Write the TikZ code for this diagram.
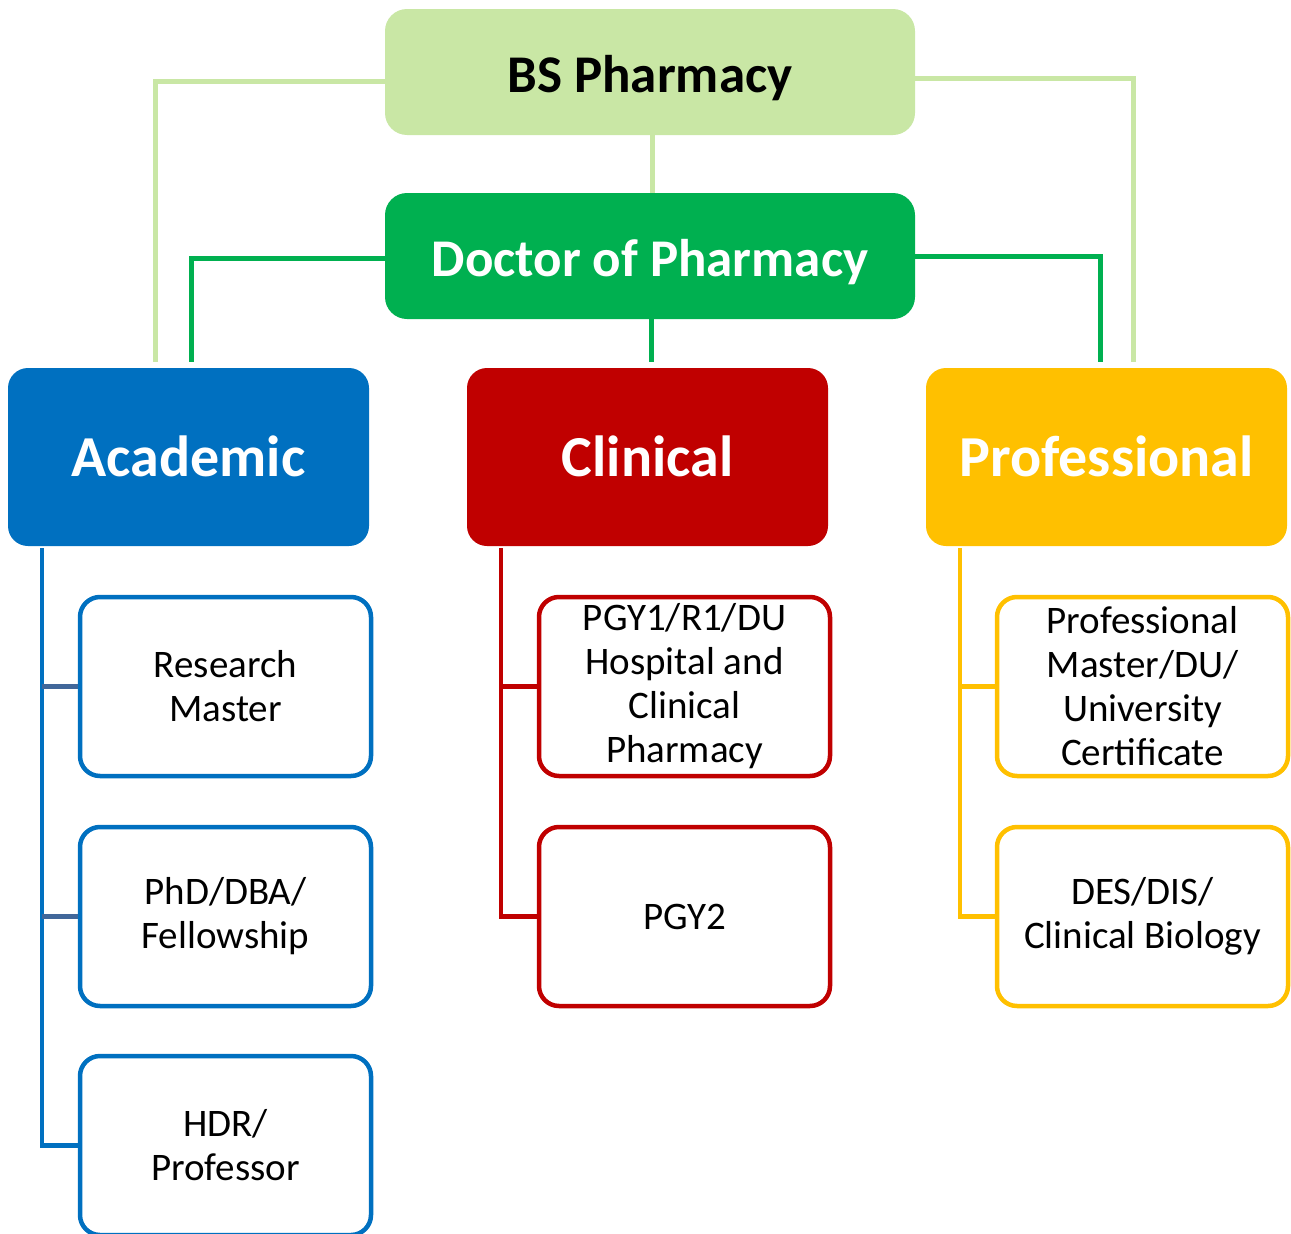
\documentclass[tikz,border=0pt]{standalone}
\usepackage{fontspec}
\setmainfont{Carlito}
\definecolor{lgreen}{HTML}{C9E7A5}
\definecolor{dgreen}{HTML}{00B050}
\definecolor{ablue}{HTML}{0070C0}
\definecolor{cred}{HTML}{C00000}
\definecolor{pyellow}{HTML}{FFC000}
\definecolor{stubblue}{HTML}{41679A}
\tikzset{
  topbox/.style={rectangle, rounded corners=22pt, minimum width=530pt, minimum height=126pt, inner sep=0pt, text height=40pt, text depth=0pt, font=\fontsize{53}{60}\selectfont\bfseries},
  catbox/.style={rectangle, rounded corners=20pt, minimum width=361pt, minimum height=178pt, inner sep=0pt, text height=38pt, text depth=0pt, text=white, font=\fontsize{58}{66}\selectfont\bfseries},
  subbox/.style={rectangle, rounded corners=20pt, draw=#1, line width=4.5pt, fill=white, minimum width=291pt, minimum height=179pt, inner sep=0pt, align=center, font=\fontsize{39}{44}\selectfont},
  conn/.style={line width=5pt, draw=#1},
  tree/.style={line width=4.5pt, draw=#1},
}
\begin{document}
\begin{tikzpicture}[x=1pt,y=-1pt]
\useasboundingbox (0,0) rectangle (1291,1234);
% top boxes
\node[topbox, fill=lgreen] (bs) at (650,72) {BS Pharmacy};
\node[topbox, fill=dgreen, text=white] (doc) at (650,256) {Doctor of Pharmacy};
% categories
\node[catbox, fill=ablue] (aca) at (188.5,457) {Academic};
\node[catbox, fill=cred] (cli) at (647.5,457) {Clinical};
\node[catbox, fill=pyellow] (pro) at (1106.5,457) {Professional};
% sub boxes
\node[subbox=ablue] (a1) at (225.5,686.5) {Research\\Master};
\node[subbox=ablue] (a2) at (225.5,916.5) {PhD/DBA/\\Fellowship};
\node[subbox=ablue] (a3) at (225.5,1145.5) {HDR/\\Professor};
\node[subbox=cred] (c1) at (684.5,686.5) {PGY1/R1/DU\\Hospital and\\Clinical\\Pharmacy};
\node[subbox=cred] (c2) at (684.5,916.5) {PGY2};
\node[subbox=pyellow] (p1) at (1142.5,686.5) {Professional\\Master/DU/\\University\\Certificate};
\node[subbox=pyellow] (p2) at (1142.5,916.5) {DES/DIS/\\Clinical Biology};
% top connectors
\draw[conn=lgreen, shorten >=6pt] ([yshift=-9pt]bs.west) -| ([xshift=-33.5pt]aca.north);
\draw[conn=lgreen, shorten >=6pt] ([yshift=-6pt]bs.east) -| ([xshift=26.5pt]pro.north);
\draw[conn=lgreen] ([xshift=2pt]bs.south) -- ([xshift=2pt]doc.north);
\draw[conn=dgreen, shorten >=6pt] ([yshift=-2pt]doc.west) -| ([xshift=2.5pt]aca.north);
\draw[conn=dgreen, shorten >=6pt] (doc.east) -| ([xshift=-6.5pt]pro.north);
\draw[conn=dgreen, shorten >=6pt] ([xshift=1pt]doc.south) -- ([xshift=1pt]doc.south |- cli.north);
% trees
\coordinate (at) at (42,548);
\coordinate (ct) at (501,548);
\coordinate (pt) at (960,548);
\draw[tree=ablue] (at) |- (a3.west);
\draw[tree=stubblue] (at |- a1.west) -- (a1.west);
\draw[tree=stubblue] (at |- a2.west) -- (a2.west);
\draw[tree=cred] (ct) |- (c2.west);
\draw[tree=cred] (ct |- c1.west) -- (c1.west);
\draw[tree=pyellow] (pt) |- (p2.west);
\draw[tree=pyellow] (pt |- p1.west) -- (p1.west);
\end{tikzpicture}
\end{document}
